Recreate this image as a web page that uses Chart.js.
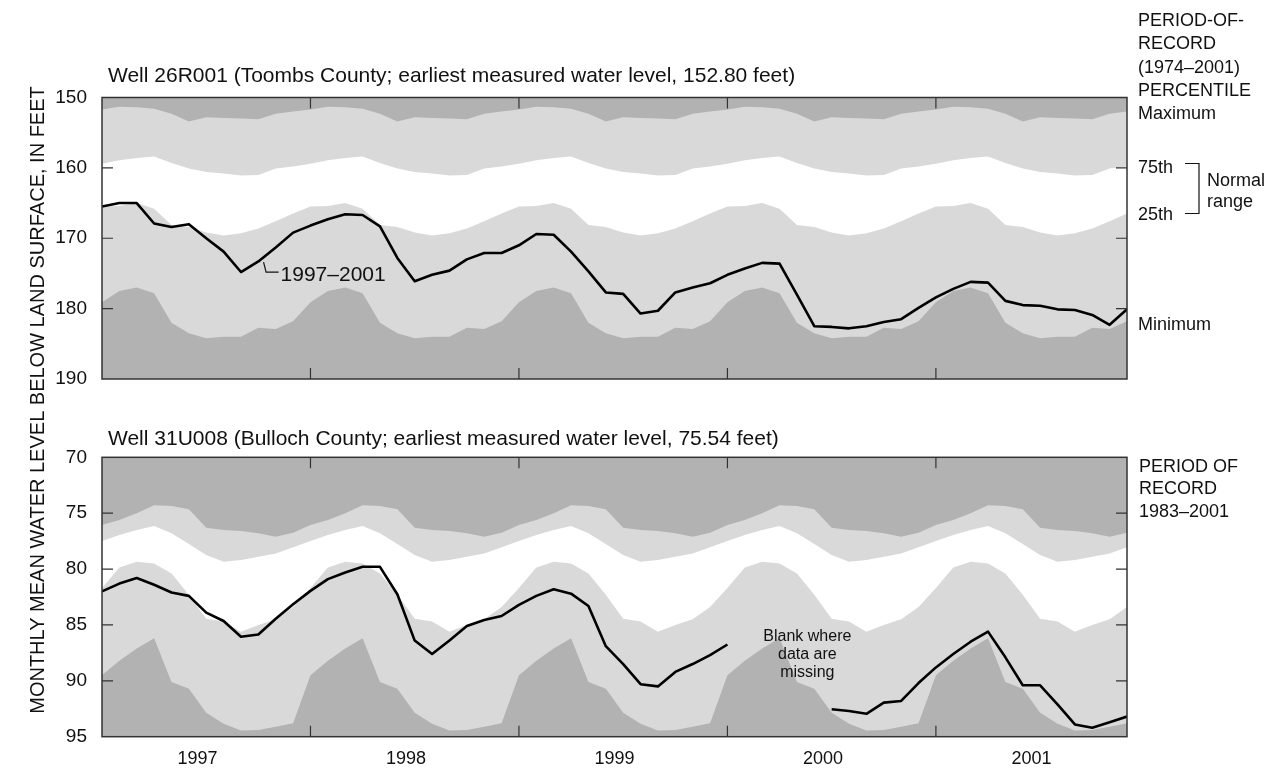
<!DOCTYPE html>
<html>
<head>
<meta charset="utf-8">
<script src="https://cdn.jsdelivr.net/npm/chart.js@4.4.1/dist/chart.umd.min.js"></script>
<style>
  html, body { margin: 0; padding: 0; background: #fff; }
  #wrap { position: relative; width: 1277px; height: 773px; overflow: hidden; }
  #wrap canvas { position: absolute; left: 0; top: 0; }
</style>
</head>
<body>
<div id="wrap">
  <canvas id="upper" width="1277" height="773"></canvas>
  <canvas id="lower" width="1277" height="773"></canvas>
</div>
<script>
// months Jan 1997 .. Dec 2001, one point per month
const yearLabels = ['1997', '1998', '1999', '2000', '2001'];
const months = [];
yearLabels.forEach((yr) => {
  for (let m = 1; m <= 12; m++) months.push(yr + '-' + String(m).padStart(2, '0'));
});

// Well 26R001, period-of-record percentiles for each calendar month (Jan..Dec)
const toombsMax = [151.7, 151.3, 151.4, 151.6, 152.3, 153.4, 152.8, 152.9, 153.0, 153.1, 152.3, 152.0];
const toombsP75 = [159.4, 158.9, 158.6, 158.4, 159.3, 160.1, 160.6, 160.8, 161.1, 161.0, 160.1, 159.8];
const toombsP25 = [165.5, 165.4, 165.0, 165.8, 168.1, 168.4, 169.2, 169.6, 169.3, 168.6, 167.6, 166.5];
const toombsMin = [179.1, 177.5, 177.0, 177.8, 182.0, 183.5, 184.2, 184.0, 184.0, 182.7, 182.9, 181.8];
const toombsLevel = [
  165.5, 165.0, 165.0, 167.9, 168.4, 168.0, 170.0, 171.9, 174.8, 173.3, 171.3, 169.2,
  168.2, 167.3, 166.6, 166.7, 168.3, 172.8, 176.1, 175.2, 174.6, 173.0, 172.1, 172.1,
  171.0, 169.4, 169.5, 171.9, 174.7, 177.7, 177.9, 180.7, 180.3, 177.7, 177.0, 176.4,
  175.2, 174.3, 173.5, 173.6, 178.0, 182.5, 182.6, 182.8, 182.5, 181.9, 181.5, 179.9,
  178.4, 177.2, 176.2, 176.3, 178.9, 179.5, 179.6, 180.1, 180.2, 180.9, 182.3, 180.1
];
const toombsTicks = { min: 150, max: 190, step: 10 };

// Well 31U008, period-of-record percentiles for each calendar month (Jan..Dec)
const bullochMax = [76.05, 75.6, 75.0, 74.3, 74.35, 74.65, 76.3, 76.5, 76.6, 76.8, 77.1, 76.75];
const bullochP75 = [77.5, 76.95, 76.5, 76.15, 76.8, 77.75, 78.75, 79.35, 79.2, 78.9, 78.6, 78.05];
const bullochP25 = [81.7, 79.85, 79.35, 79.5, 80.4, 82.3, 84.45, 84.7, 85.6, 85.0, 84.5, 83.4];
const bullochMin = [89.5, 88.2, 87.1, 86.2, 90.1, 90.7, 92.85, 93.85, 94.45, 94.4, 94.1, 93.8];
const bullochLevel = [
  82.0, 81.3, 80.8, 81.4, 82.1, 82.4, 83.9, 84.65, 86.05, 85.85, 84.45, 83.15,
  81.95, 80.9, 80.3, 79.8, 79.8, 82.25, 86.4, 87.6, 86.4, 85.1, 84.55, 84.2,
  83.2, 82.4, 81.8, 82.2, 83.3, 86.9, 88.5, 90.3, 90.5, 89.2, 88.5, 87.7,
  86.75, null, null, null, null, null, 92.55, 92.7, 92.95, 91.95, 91.8, 90.2,
  88.8, 87.6, 86.5, 85.6, 87.9, 90.4, 90.4, 92.1, 93.9, 94.2, 93.7, 93.2
];
const bullochTicks = { min: 70, max: 95, step: 5 };

const FONT = '"Liberation Sans", Arial, Helvetica, sans-serif';
const INK = '#111';
const DARK = '#b2b2b2';
const LIGHT = '#d9d9d9';

Chart.defaults.font.family = FONT;
Chart.defaults.color = INK;

// each month takes the percentile of its calendar month
const byMonth = (monthly) => months.map((_, i) => ({ x: i, y: monthly[i % 12] }));
const bySeries = (values) => months.map((_, i) => ({ x: i, y: values[i] }));

function bandDatasets(max, p75, p25, min, level) {
  const band = { borderWidth: 0, pointRadius: 0, tension: 0 };
  return [
    { label: 'level', data: bySeries(level), borderColor: '#000', borderWidth: 2.6,
      pointRadius: 0, tension: 0, fill: false, spanGaps: false },
    { label: '75th', data: byMonth(p75), ...band, backgroundColor: '#fff', fill: '+1' },
    { label: '25th', data: byMonth(p25), ...band, fill: false },
    { label: 'Maximum', data: byMonth(max), ...band, backgroundColor: LIGHT, fill: '+1' },
    { label: 'Minimum', data: byMonth(min), ...band, fill: false },
  ];
}

const plotBack = {
  id: 'plotBack',
  beforeDraw(chart) {
    const a = chart.chartArea;
    chart.ctx.save();
    chart.ctx.fillStyle = DARK;
    chart.ctx.fillRect(a.left, a.top, a.right - a.left, a.bottom - a.top);
    chart.ctx.restore();
  }
};

const frame = {
  id: 'frame',
  afterDatasetsDraw(chart) {
    const { ctx, chartArea: a, scales: { x, y } } = chart;
    ctx.save();
    ctx.strokeStyle = '#333';
    ctx.lineWidth = 1.5;
    ctx.strokeRect(a.left, a.top, a.right - a.left, a.bottom - a.top);
    ctx.lineWidth = 1.2;
    ctx.beginPath();
    y.ticks.slice(1, -1).forEach((t) => {
      const py = y.getPixelForValue(t.value);
      ctx.moveTo(a.left, py); ctx.lineTo(a.left + 11, py);
      ctx.moveTo(a.right, py); ctx.lineTo(a.right - 11, py);
    });
    yearLabels.slice(1).forEach((_, k) => {
      const px = x.getPixelForValue(12 * (k + 1));
      ctx.moveTo(px, a.top); ctx.lineTo(px, a.top + 11);
      ctx.moveTo(px, a.bottom); ctx.lineTo(px, a.bottom - 11);
    });
    ctx.stroke();
    ctx.restore();
  }
};

const upperNotes = {
  id: 'upperNotes',
  afterDraw(chart) {
    const { ctx, scales: { x, y } } = chart;
    ctx.save();
    ctx.fillStyle = INK;
    ctx.strokeStyle = INK;
    ctx.textBaseline = 'alphabetic';
    ctx.textAlign = 'left';

    ctx.font = '21px ' + FONT;
    ctx.fillText('Well 26R001 (Toombs County; earliest measured water level, 152.80 feet)', 108, 82);

    // shared y title
    ctx.save();
    ctx.translate(38, 400);
    ctx.rotate(-Math.PI / 2);
    ctx.textAlign = 'center';
    ctx.textBaseline = 'middle';
    ctx.font = '20px ' + FONT;
    ctx.fillText('MONTHLY MEAN WATER LEVEL BELOW LAND SURFACE, IN FEET', 0, 0);
    ctx.restore();

    // percentile key on the right
    ctx.font = '18px ' + FONT;
    ['PERIOD-OF-', 'RECORD', '(1974\u20132001)', 'PERCENTILE', 'Maximum']
      .forEach((t, k) => ctx.fillText(t, 1138, 26 + 23.3 * k));
    ctx.fillText('75th', 1138, 172.5);
    ctx.fillText('25th', 1138, 219.5);
    ctx.fillText('Minimum', 1138, 329.5);
    ctx.fillText('Normal', 1207, 185.5);
    ctx.fillText('range', 1207, 207);
    ctx.lineWidth = 1.2;
    ctx.beginPath();
    ctx.moveTo(1185, 163.5); ctx.lineTo(1199, 163.5); ctx.lineTo(1199, 213.5); ctx.lineTo(1185, 213.5);
    ctx.stroke();

    // 1997-2001 label with leader
    const lx = x.getPixelForValue(9.3);
    const ly = y.getPixelForValue(173.4);
    ctx.beginPath();
    ctx.moveTo(lx, ly);
    ctx.lineTo(lx + 2.5, ly + 10);
    ctx.lineTo(lx + 15, ly + 10);
    ctx.stroke();
    ctx.font = '21px ' + FONT;
    ctx.fillText('1997\u20132001', lx + 17, ly + 18.5);
    ctx.restore();
  }
};

const lowerNotes = {
  id: 'lowerNotes',
  afterDraw(chart) {
    const { ctx, scales: { x } } = chart;
    ctx.save();
    ctx.fillStyle = INK;
    ctx.textBaseline = 'alphabetic';
    ctx.textAlign = 'left';
    ctx.font = '21px ' + FONT;
    ctx.fillText('Well 31U008 (Bulloch County; earliest measured water level, 75.54 feet)', 108, 444.5);
    ctx.font = '18px ' + FONT;
    ['PERIOD OF', 'RECORD', '1983\u20132001'].forEach((t, k) => ctx.fillText(t, 1139, 471.5 + 22.6 * k));
    ctx.font = '16px ' + FONT;
    ctx.textAlign = 'center';
    const cx = x.getPixelForValue(40.6);
    ['Blank where', 'data are', 'missing'].forEach((t, k) => ctx.fillText(t, cx, 640.5 + 18.3 * k));
    ctx.restore();
  }
};

function yScale(t) {
  return {
    reverse: true, min: t.min, max: t.max, position: 'left',
    grid: { display: false, drawTicks: false }, border: { display: false },
    ticks: { stepSize: t.step, padding: 15, font: { size: 19 }, color: INK },
    afterFit: (s) => { s.width = 102; }
  };
}

function makeChart(id, datasets, ticks, padding, showYears, notes) {
  const xAxis = showYears
    ? {
        type: 'linear', min: 0, max: months.length - 1, position: 'bottom',
        grid: { display: false, drawTicks: false }, border: { display: false },
        afterBuildTicks: (s) => { s.ticks = yearLabels.map((_, k) => ({ value: 12 * k + 5.5 })); },
        ticks: { autoSkip: false, maxRotation: 0, padding: 12, font: { size: 18 }, color: INK,
                 callback: (v) => yearLabels[Math.floor(v / 12)] },
        afterFit: (s) => { s.height = 36.3; }
      }
    : { type: 'linear', min: 0, max: months.length - 1, display: false };
  return new Chart(document.getElementById(id), {
    type: 'line',
    data: { datasets },
    options: {
      responsive: false, animation: false, devicePixelRatio: 1,
      layout: { padding },
      plugins: { legend: { display: false }, tooltip: { enabled: false } },
      elements: { line: { borderJoinStyle: 'round' } },
      scales: { x: xAxis, y: yScale(ticks) }
    },
    plugins: [plotBack, frame, notes]
  });
}

makeChart('upper', bandDatasets(toombsMax, toombsP75, toombsP25, toombsMin, toombsLevel),
  toombsTicks, { left: 0, right: 150, top: 97.5, bottom: 394 }, false, upperNotes);
makeChart('lower', bandDatasets(bullochMax, bullochP75, bullochP25, bullochMin, bullochLevel),
  bullochTicks, { left: 0, right: 150, top: 457.3, bottom: 0 }, true, lowerNotes);
</script>
</body>
</html>
